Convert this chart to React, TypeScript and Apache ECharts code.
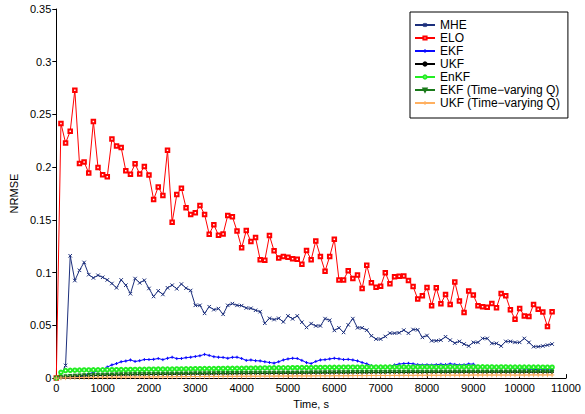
import React, { useEffect, useRef } from "react";
import * as echarts from "echarts";

const TIME = [
  0, 100, 200, 300, 400, 500, 600, 700, 800, 900,
  1000, 1100, 1200, 1300, 1400, 1500, 1600, 1700, 1800, 1900,
  2000, 2100, 2200, 2300, 2400, 2500, 2600, 2700, 2800, 2900,
  3000, 3100, 3200, 3300, 3400, 3500, 3600, 3700, 3800, 3900,
  4000, 4100, 4200, 4300, 4400, 4500, 4600, 4700, 4800, 4900,
  5000, 5100, 5200, 5300, 5400, 5500, 5600, 5700, 5800, 5900,
  6000, 6100, 6200, 6300, 6400, 6500, 6600, 6700, 6800, 6900,
  7000, 7100, 7200, 7300, 7400, 7500, 7600, 7700, 7800, 7900,
  8000, 8100, 8200, 8300, 8400, 8500, 8600, 8700, 8800, 8900,
  9000, 9100, 9200, 9300, 9400, 9500, 9600, 9700, 9800, 9900,
  10000, 10100, 10200, 10300, 10400, 10500, 10600, 10700,
];

const MHE = [
  0, 0.003, 0.012, 0.116, 0.0925, 0.1022, 0.1097, 0.0981, 0.095, 0.0975,
  0.0956, 0.0931, 0.0897, 0.0856, 0.0931, 0.0881, 0.08, 0.0944, 0.0903, 0.0928,
  0.085, 0.0774, 0.0828, 0.0793, 0.0856, 0.0881, 0.0847, 0.0892, 0.0853, 0.0831,
  0.069, 0.069, 0.0614, 0.0677, 0.0649, 0.0659, 0.0605, 0.069, 0.0706, 0.069,
  0.0687, 0.0665, 0.0662, 0.0643, 0.063, 0.052, 0.0567, 0.0555, 0.0567, 0.0533,
  0.059, 0.0562, 0.059, 0.053, 0.048, 0.0517, 0.0495, 0.0495, 0.0564, 0.0549,
  0.0452, 0.0477, 0.0433, 0.0505, 0.0564, 0.0477, 0.0477, 0.0455, 0.0401, 0.037,
  0.037, 0.0395, 0.0426, 0.0426, 0.043, 0.0455, 0.0426, 0.0461, 0.0458, 0.0386,
  0.0404, 0.0354, 0.0354, 0.036, 0.0392, 0.036, 0.0332, 0.0348, 0.0323, 0.0304,
  0.0339, 0.0339, 0.0376, 0.0376, 0.0329, 0.0329, 0.0304, 0.0348, 0.0348, 0.0339,
  0.0339, 0.0376, 0.0339, 0.0298, 0.0298, 0.0304, 0.0313, 0.0323,
];

const ELO = [
  0, 0.2415, 0.223, 0.234, 0.273, 0.2035, 0.205, 0.1944, 0.2433, 0.1997,
  0.1929, 0.191, 0.2267, 0.22, 0.2186, 0.1966, 0.1932, 0.2032, 0.1935, 0.2007,
  0.1926, 0.1693, 0.1813, 0.1731, 0.2161, 0.1477, 0.174, 0.18, 0.1615, 0.1552,
  0.1568, 0.1637, 0.1552, 0.1364, 0.1455, 0.1355, 0.1367, 0.1543, 0.153, 0.1395,
  0.1235, 0.1399, 0.1295, 0.1333, 0.1122, 0.1117, 0.1352, 0.1207, 0.1138, 0.1154,
  0.1145, 0.1132, 0.1126, 0.108, 0.121, 0.1122, 0.1301, 0.1154, 0.1013, 0.1154,
  0.1317, 0.0931, 0.0931, 0.1019, 0.0944, 0.0978, 0.085, 0.107, 0.0903, 0.0862,
  0.0872, 0.1, 0.0894, 0.096, 0.0966, 0.0969, 0.0925, 0.0869, 0.075, 0.0781,
  0.086, 0.0687, 0.0856, 0.0706, 0.0793, 0.0699, 0.0912, 0.0731, 0.0621, 0.0825,
  0.0787, 0.0687, 0.0677, 0.0671, 0.0708, 0.0668, 0.0803, 0.0781, 0.0649, 0.0558,
  0.0661, 0.059, 0.0583, 0.0699, 0.0652, 0.0627, 0.0489, 0.063,
];

const EKF = [
  0, 0.0003, 0.0005, 0.0008, 0.001, 0.0015, 0.0025, 0.004, 0.0055, 0.0068,
  0.0082, 0.0105, 0.0125, 0.0138, 0.0155, 0.0162, 0.0172, 0.0158, 0.0165, 0.0176,
  0.0176, 0.0178, 0.0186, 0.0175, 0.0188, 0.0198, 0.0185, 0.0186, 0.0194, 0.0198,
  0.0205, 0.0212, 0.0225, 0.0215, 0.0203, 0.0198, 0.0196, 0.0188, 0.0197, 0.0198,
  0.0186, 0.0168, 0.0172, 0.0165, 0.0163, 0.0155, 0.0148, 0.0142, 0.0155, 0.0172,
  0.0182, 0.0188, 0.0186, 0.0168, 0.0147, 0.0138, 0.0158, 0.0172, 0.0175, 0.0182,
  0.0188, 0.0183, 0.0176, 0.0178, 0.0172, 0.0163, 0.0148, 0.0135, 0.0118, 0.0105,
  0.0097, 0.0102, 0.0112, 0.0125, 0.0133, 0.0138, 0.014, 0.0135, 0.0128, 0.0125,
  0.0127, 0.0124, 0.0128, 0.0131, 0.0128, 0.0135, 0.013, 0.0125, 0.0127, 0.0134,
  0.0132, 0.0112, 0.0105, 0.0108, 0.0112, 0.011, 0.0108, 0.0102, 0.0098, 0.0095,
  0.009, 0.0088, 0.0085, 0.0082, 0.008, 0.0079, 0.0078, 0.0078,
];

const UKF = [
  0, 0.0006, 0.0011, 0.0015, 0.0018, 0.002, 0.0021, 0.0022, 0.0024, 0.0025,
  0.0026, 0.0027, 0.0028, 0.0029, 0.003, 0.0031, 0.0031, 0.0032, 0.0033, 0.0033,
  0.0034, 0.0034, 0.0035, 0.0035, 0.0036, 0.0036, 0.0037, 0.0037, 0.0038, 0.0038,
  0.0039, 0.0039, 0.0039, 0.004, 0.004, 0.0041, 0.0041, 0.0041, 0.0042, 0.0042,
  0.0043, 0.0043, 0.0043, 0.0044, 0.0044, 0.0044, 0.0045, 0.0045, 0.0045, 0.0046,
  0.0046, 0.0046, 0.0047, 0.0047, 0.0047, 0.0048, 0.0048, 0.0048, 0.0049, 0.0049,
  0.0049, 0.005, 0.005, 0.005, 0.0051, 0.0051, 0.0051, 0.0051, 0.0052, 0.0052,
  0.0052, 0.0052, 0.0053, 0.0053, 0.0053, 0.0053, 0.0054, 0.0054, 0.0054, 0.0054,
  0.0054, 0.0055, 0.0055, 0.0055, 0.0055, 0.0055, 0.0056, 0.0056, 0.0056, 0.0056,
  0.0056, 0.0056, 0.0056, 0.0056, 0.0056, 0.0056, 0.0056, 0.0056, 0.0056, 0.0056,
  0.0056, 0.0056, 0.0056, 0.0056, 0.0056, 0.0056, 0.0056, 0.0056,
];

const ENKF = [
  0, 0.0055, 0.0072, 0.0074, 0.0075, 0.0076, 0.0077, 0.0077, 0.0078, 0.0078,
  0.0079, 0.0079, 0.008, 0.008, 0.0081, 0.0081, 0.0082, 0.0082, 0.0083, 0.0083,
  0.0084, 0.0084, 0.0085, 0.0085, 0.0086, 0.0086, 0.0087, 0.0087, 0.0088, 0.0088,
  0.0089, 0.0089, 0.009, 0.009, 0.009, 0.0091, 0.0091, 0.0092, 0.0092, 0.0093,
  0.0093, 0.0094, 0.0094, 0.0095, 0.0095, 0.0096, 0.0096, 0.0097, 0.0097, 0.0098,
  0.0098, 0.0099, 0.0099, 0.01, 0.01, 0.01, 0.0101, 0.0101, 0.0101, 0.0102,
  0.0102, 0.0102, 0.0103, 0.0103, 0.0103, 0.0103, 0.0104, 0.0104, 0.0104, 0.0104,
  0.0105, 0.0105, 0.0104, 0.0105, 0.0105, 0.0106, 0.0105, 0.0105, 0.0106, 0.0106,
  0.0106, 0.0106, 0.0105, 0.0106, 0.0106, 0.0107, 0.0106, 0.0106, 0.0107, 0.0107,
  0.0106, 0.0106, 0.0107, 0.0106, 0.0106, 0.0105, 0.0106, 0.0106, 0.0105, 0.0105,
  0.0105, 0.0105, 0.0104, 0.0104, 0.0104, 0.0103, 0.0103, 0.0103,
];

const EKF_TVQ = [
  0, 0.0008, 0.0014, 0.0018, 0.0021, 0.0023, 0.0025, 0.0026, 0.0028, 0.0029,
  0.003, 0.0031, 0.0032, 0.0033, 0.0034, 0.0035, 0.0035, 0.0036, 0.0037, 0.0037,
  0.0038, 0.0038, 0.0039, 0.0039, 0.004, 0.004, 0.0041, 0.0041, 0.0042, 0.0042,
  0.0043, 0.0043, 0.0043, 0.0044, 0.0044, 0.0045, 0.0045, 0.0045, 0.0046, 0.0046,
  0.0047, 0.0047, 0.0047, 0.0048, 0.0048, 0.0048, 0.0049, 0.0049, 0.0049, 0.005,
  0.005, 0.005, 0.0051, 0.0051, 0.0051, 0.0052, 0.0052, 0.0052, 0.0053, 0.0053,
  0.0053, 0.0054, 0.0054, 0.0054, 0.0055, 0.0055, 0.0055, 0.0055, 0.0056, 0.0056,
  0.0056, 0.0056, 0.0057, 0.0057, 0.0057, 0.0057, 0.0058, 0.0058, 0.0058, 0.0058,
  0.0058, 0.0059, 0.0059, 0.0059, 0.0059, 0.0059, 0.006, 0.006, 0.006, 0.006,
  0.006, 0.006, 0.006, 0.006, 0.006, 0.006, 0.006, 0.006, 0.006, 0.006,
  0.006, 0.006, 0.006, 0.006, 0.006, 0.006, 0.006, 0.006,
];

const UKF_TVQ = [
  0, 0.0001, 0.0002, 0.0003, 0.0004, 0.0005, 0.0005, 0.0006, 0.0006, 0.0007,
  0.0007, 0.0008, 0.0008, 0.0009, 0.0009, 0.001, 0.001, 0.001, 0.0011, 0.0011,
  0.0012, 0.0012, 0.0012, 0.0013, 0.0013, 0.0013, 0.0014, 0.0014, 0.0014, 0.0015,
  0.0015, 0.0015, 0.0016, 0.0016, 0.0016, 0.0016, 0.0017, 0.0017, 0.0017, 0.0017,
  0.0018, 0.0018, 0.0018, 0.0018, 0.0019, 0.0019, 0.0019, 0.0019, 0.002, 0.002,
  0.002, 0.002, 0.0021, 0.0021, 0.0021, 0.0021, 0.0022, 0.0022, 0.0022, 0.0022,
  0.0023, 0.0023, 0.0023, 0.0023, 0.0024, 0.0024, 0.0024, 0.0024, 0.0025, 0.0025,
  0.0025, 0.0025, 0.0025, 0.0026, 0.0026, 0.0026, 0.0026, 0.0026, 0.0027, 0.0027,
  0.0027, 0.0027, 0.0027, 0.0027, 0.0028, 0.0028, 0.0028, 0.0028, 0.0028, 0.0028,
  0.0029, 0.0029, 0.0029, 0.0029, 0.0029, 0.0029, 0.0029, 0.0029, 0.0029, 0.0029,
  0.0029, 0.0029, 0.003, 0.003, 0.003, 0.003, 0.003, 0.003,
];

const NAMES = [
  "MHE",
  "ELO",
  "EKF",
  "UKF",
  "EnKF",
  "EKF (Time\u2212varying Q)",
  "UKF (Time\u2212varying Q)",
];

const FONT = "'Liberation Sans', Arial, Helvetica, sans-serif";

const X_PATH = "path://M0,0L10,10M10,0L0,10";
const PLUS_PATH = "path://M5,0L5,10M0,5L10,5";

function pairs(values: number[]) {
  return TIME.map((t, i) => [t, values[i]]);
}

function mkSeries(
  name: string,
  values: number[],
  color: string,
  symbol: string,
  symbolSize: number,
  opts: any = {}
) {
  return {
    type: "line",
    name,
    data: pairs(values),
    symbol,
    symbolSize,
    showSymbol: true,
    showAllSymbol: true,
    lineStyle: { color, width: 1 },
    itemStyle: { color, borderColor: color, borderWidth: 1 },
    emphasis: { disabled: true },
    animation: false,
    ...opts,
  };
}

export default function App() {
  const ref = useRef<HTMLDivElement>(null);

  useEffect(() => {
    document.body.style.margin = "0";
    const chart = echarts.init(ref.current!, null, { renderer: "svg" });
    const option: any = {
      animation: false,
      backgroundColor: "#ffffff",
      textStyle: { fontFamily: FONT },
      grid: { left: 52, right: 19, top: 9, bottom: 33, containLabel: false },
      legend: {
        data: NAMES,
        orient: "vertical",
        left: 410,
        top: 12,
        itemWidth: 20,
        itemHeight: 4,
        itemGap: 1,
        padding: [7, 8, 9, 4],
        borderColor: "#000",
        borderWidth: 1,
        borderRadius: 0,
        backgroundColor: "#fff",
        selectedMode: false,
        textStyle: { fontSize: 12, color: "#000", fontFamily: FONT },
      },
      xAxis: {
        type: "value",
        min: 0,
        max: 11000,
        interval: 1000,
        name: "Time, s",
        nameLocation: "middle",
        nameGap: 10,
        nameTextStyle: { fontSize: 11, color: "#000", fontFamily: FONT },
        axisLine: { show: true, lineStyle: { color: "#000", width: 1 } },
        axisTick: { show: true, inside: true, length: 4, lineStyle: { color: "#000" } },
        axisLabel: {
          fontSize: 11,
          color: "#000",
          margin: 4,
          fontFamily: FONT,
          formatter: (v: number) => String(v),
        },
        splitLine: { show: false },
      },
      yAxis: {
        type: "value",
        min: 0,
        max: 0.35,
        interval: 0.05,
        name: "NRMSE",
        nameLocation: "middle",
        nameGap: 32,
        nameRotate: 90,
        nameTextStyle: { fontSize: 11, color: "#000", fontFamily: FONT },
        axisLine: { show: true, lineStyle: { color: "#000", width: 1 } },
        axisTick: { show: true, inside: false, length: 4, lineStyle: { color: "#000" } },
        axisLabel: { fontSize: 11, color: "#000", margin: 5, fontFamily: FONT },
        splitLine: { show: false },
      },
      series: [
        mkSeries(NAMES[0], MHE, "#1c2f7c", X_PATH, 3.5),
        mkSeries(NAMES[1], ELO, "#ff0000", "emptyRect", 3.5),
        mkSeries(NAMES[2], EKF, "#0a0aff", PLUS_PATH, 3),
        mkSeries(NAMES[3], UKF, "#000000", "circle", 2.5),
        mkSeries(NAMES[4], ENKF, "#22ee22", "emptyCircle", 3.5),
        mkSeries(NAMES[5], EKF_TVQ, "#1a7a1a", "triangle", 3.5, { symbolRotate: 180 }),
        mkSeries(NAMES[6], UKF_TVQ, "#ffb060", PLUS_PATH, 4.5),
      ],
    };
    chart.setOption(option);
    return () => chart.dispose();
  }, []);

  return <div ref={ref} style={{ width: 585, height: 414 }} />;
}
